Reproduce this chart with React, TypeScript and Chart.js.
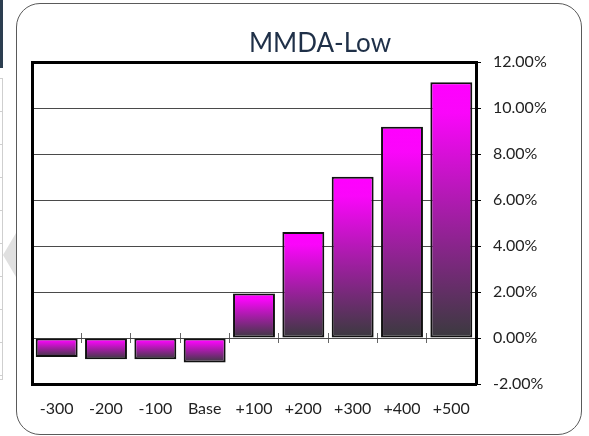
import React, { useEffect, useRef } from "react";
import { Chart, registerables } from "chart.js";

Chart.register(...registerables);

const categories = ["-300", "-200", "-100", "Base", "+100", "+200", "+300", "+400", "+500"];
const values = [-0.83, -0.92, -0.92, -1.06, 1.94, 4.61, 7.01, 9.19, 11.12];
const yMin = -2;
const yMax = 12;
const yStep = 2;
const titleText = "MMDA-Low";

const FONT = "Lato, 'Open Sans', sans-serif";

export default function App() {
  const canvasRef = useRef<HTMLCanvasElement | null>(null);

  useEffect(() => {
    const canvas = canvasRef.current;
    if (!canvas) return;
    const transparent = "rgba(0,0,0,0)";
    const chart = new Chart(canvas, {
      type: "bar",
      data: {
        labels: categories,
        datasets: [
          {
            data: values,
            xAxisID: "x",
            yAxisID: "y",
            backgroundColor: (ctx: any) => {
              const ch = ctx.chart;
              const area = ch.chartArea;
              if (!area || ctx.type !== "data") return "#ff00ff";
              const ys = ch.scales.y;
              const v = ctx.raw as number;
              const p0 = ys.getPixelForValue(0);
              const p1 = ys.getPixelForValue(v);
              const top = Math.min(p0, p1);
              const bot = Math.max(p0, p1);
              const g = ch.ctx.createLinearGradient(0, top, 0, bot);
              g.addColorStop(0, "#ff00ff");
              g.addColorStop(0.12, "#fa06fa");
              g.addColorStop(1, "#3a3a3e");
              return g;
            },
            borderColor: "#111111",
            borderWidth: 2,
            borderSkipped: false,
            barPercentage: 0.85,
            categoryPercentage: 1,
          } as any,
        ],
      },
      options: {
        animation: false,
        responsive: false,
        maintainAspectRatio: false,
        layout: { padding: { left: 16, right: 0, top: 0, bottom: 0 } },
        plugins: {
          legend: { display: false },
          tooltip: { enabled: false },
          title: {
            display: true,
            text: titleText,
            color: "#1f3048",
            align: "center",
            font: { family: FONT, size: 26, weight: "normal", lineHeight: "30px" } as any,
            padding: { top: 29, bottom: 3 },
          },
        },
        scales: {
          x: {
            type: "category",
            position: "bottom",
            offset: true,
            grid: { display: true, drawOnChartArea: false, drawTicks: false, color: transparent, offset: true },
            border: { display: true, color: "#000", width: 3 },
            ticks: {
              color: "#222",
              font: { family: FONT, size: 16 },
              padding: 15,
              maxRotation: 0,
              autoSkip: false,
            },
            afterFit: (s: any) => {
              s.height = 52;
            },
          },
          xTop: {
            type: "category",
            position: "top",
            offset: true,
            grid: { display: true, drawOnChartArea: false, drawTicks: false, color: transparent },
            border: { display: true, color: "#000", width: 3 },
            ticks: { display: false },
            afterFit: (s: any) => {
              s.height = 0;
            },
          },
          xTick: {
            type: "category",
            position: { y: 0.22 } as any,
            offset: true,
            grid: {
              display: true,
              offset: true,
              drawOnChartArea: false,
              drawTicks: true,
              tickLength: 10,
              color: "#666",
              tickColor: "#666",
              lineWidth: 1,
            },
            border: { display: false },
            ticks: { display: false },
          },
          y: {
            type: "linear",
            position: "right",
            min: yMin,
            max: yMax,
            grid: {
              color: "#4a4a4a",
              lineWidth: 1,
              drawTicks: true,
              tickLength: 5,
              tickColor: "#000",
            },
            border: { display: true, color: "#000", width: 3 },
            ticks: {
              stepSize: yStep,
              color: "#222",
              font: { family: FONT, size: 16 },
              padding: 12,
              callback: (v: any) => Number(v).toFixed(2) + "%",
            },
            afterFit: (s: any) => {
              s.width = 132;
            },
          },
          yLeft: {
            type: "linear",
            position: "left",
            min: yMin,
            max: yMax,
            grid: { display: true, drawOnChartArea: false, drawTicks: false, color: transparent },
            border: { display: true, color: "#000", width: 3 },
            ticks: { display: false },
            afterFit: (s: any) => {
              s.width = 0;
            },
          },
        },
      } as any,
    });
    return () => chart.destroy();
  }, []);

  return (
    <div
      style={{
        position: "absolute",
        left: 0,
        top: 0,
        width: 589,
        height: 436,
        overflow: "hidden",
        background: "#fff",
      }}
    >
      <div style={{ position: "absolute", left: 0, top: 0, width: 3, height: 68, background: "#2c3e50" }} />
      <div
        style={{
          position: "absolute",
          left: -10,
          top: 78,
          width: 13,
          height: 302,
          boxSizing: "border-box",
          border: "1px solid #cfcfcf",
          backgroundImage: "repeating-linear-gradient(to bottom, transparent 0px, transparent 32px, #cfcfcf 32px, #cfcfcf 33px)",
        }}
      />
      <div
        style={{
          position: "absolute",
          left: 3,
          top: 233,
          width: 0,
          height: 0,
          borderTop: "22px solid transparent",
          borderBottom: "22px solid transparent",
          borderRight: "13px solid #e0e0e0",
        }}
      />
      <div
        style={{
          position: "absolute",
          left: 16,
          top: 3,
          width: 566,
          height: 432,
          boxSizing: "border-box",
          border: "1px solid #5a5a5a",
          borderRadius: 24,
        }}
      />
      <canvas
        ref={canvasRef}
        width={592}
        height={436}
        style={{ position: "absolute", left: 16, top: 0, width: 592, height: 436 }}
      />
    </div>
  );
}
